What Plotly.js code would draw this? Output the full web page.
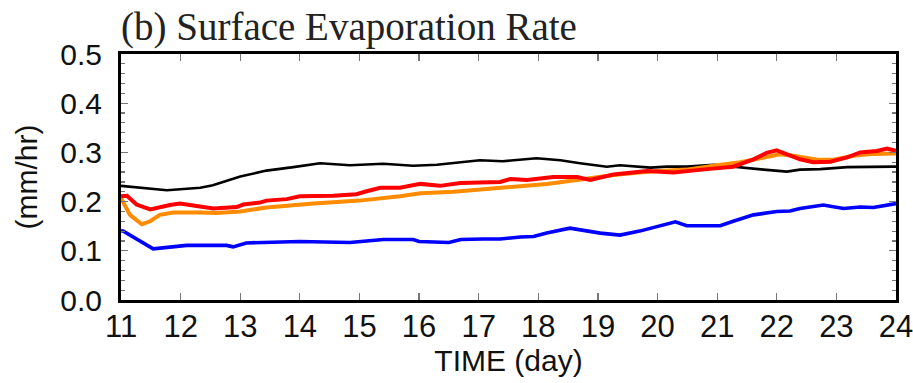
<!DOCTYPE html>
<html>
<head>
<meta charset="utf-8">
<script src="https://cdn.plot.ly/plotly-3.0.1.min.js"></script>
<style>html,body{margin:0;padding:0;background:#fff;}#chart{width:913px;height:383px;}</style>
</head>
<body>
<div id="chart"></div>
<script>
// ---- data ----
var dayBlack  = [11.0,11.4,11.77,12.33,12.54,13.0,13.44,13.89,14.34,14.84,15.4,15.9,16.3,17.02,17.4,17.97,18.37,18.7,19.15,19.37,19.88,20.16,20.49,20.94,21.39,21.78,22.17,22.39,22.73,23.18,23.96,24.0];
var evapBlack = [0.232,0.228,0.223,0.228,0.233,0.251,0.263,0.270,0.278,0.274,0.277,0.273,0.275,0.284,0.282,0.288,0.284,0.278,0.271,0.274,0.269,0.271,0.271,0.275,0.269,0.265,0.261,0.265,0.266,0.270,0.271,0.271];

var dayBlue  = [11.0,11.04,11.54,12.1,12.77,12.88,13.1,14.0,14.84,15.4,15.9,16.0,16.5,16.7,17.08,17.36,17.7,17.92,18.14,18.53,19.04,19.37,19.7,19.99,20.3,20.49,20.83,21.05,21.27,21.61,22.0,22.22,22.39,22.78,23.12,23.4,23.62,23.96,24.0];
var evapBlue = [0.141,0.140,0.104,0.111,0.111,0.108,0.116,0.119,0.117,0.123,0.123,0.119,0.117,0.123,0.124,0.124,0.128,0.129,0.136,0.146,0.136,0.132,0.140,0.150,0.159,0.151,0.152,0.151,0.160,0.173,0.180,0.181,0.186,0.193,0.186,0.189,0.188,0.196,0.196];

var dayOrange  = [11.0,11.15,11.35,11.49,11.65,11.88,12.33,12.6,13.0,13.44,14.23,15.0,15.68,16.02,16.58,17.36,17.7,18.14,18.65,19.26,19.88,20.49,20.94,21.39,21.72,22.05,22.28,22.68,22.95,23.29,23.62,24.0];
var evapOrange = [0.207,0.173,0.154,0.160,0.173,0.178,0.178,0.177,0.180,0.188,0.196,0.202,0.211,0.217,0.220,0.228,0.231,0.236,0.244,0.254,0.261,0.265,0.273,0.280,0.288,0.296,0.293,0.285,0.285,0.293,0.297,0.298];

var dayRed  = [11.0,11.1,11.26,11.49,11.82,11.99,12.21,12.55,12.94,13.05,13.33,13.44,13.78,14.0,14.56,14.95,15.12,15.35,15.68,16.02,16.35,16.69,17.02,17.36,17.53,17.81,18.25,18.65,18.87,19.26,19.82,20.27,20.83,21.27,21.61,21.83,22.0,22.17,22.39,22.61,22.9,23.18,23.4,23.68,23.85,24.0];
var evapRed = [0.211,0.212,0.194,0.184,0.193,0.196,0.192,0.186,0.189,0.194,0.198,0.202,0.205,0.211,0.212,0.215,0.221,0.228,0.228,0.236,0.232,0.238,0.239,0.240,0.246,0.244,0.250,0.250,0.244,0.255,0.262,0.259,0.266,0.271,0.286,0.299,0.304,0.297,0.286,0.280,0.281,0.290,0.300,0.303,0.308,0.303];

var xTickVals = [11,12,13,14,15,16,17,18,19,20,21,22,23,24];
var yTickVals = [0.0,0.1,0.2,0.3,0.4,0.5];
var yTickText = ['0.0','0.1','0.2','0.3','0.4','0.5'];

var traces = [
  {x: dayBlack,  y: evapBlack,  mode: 'lines', line: {color: '#000000', width: 2.6}},
  {x: dayBlue,   y: evapBlue,   mode: 'lines', line: {color: '#0000ff', width: 3.6}},
  {x: dayOrange, y: evapOrange, mode: 'lines', line: {color: '#ff8c00', width: 4}},
  {x: dayRed,    y: evapRed,    mode: 'lines', line: {color: '#ff0000', width: 4}}
];

var layout = {
  width: 913, height: 383,
  margin: {l: 121, r: 17, t: 54, b: 83},
  paper_bgcolor: '#ffffff', plot_bgcolor: '#ffffff',
  showlegend: false,
  title: {
    text: '(b) Surface Evaporation Rate',
    font: {family: 'Liberation Serif, Times New Roman, serif', size: 39, color: '#222'},
    x: 121/913, xref: 'container', xanchor: 'left',
    y: 1 - 26/383, yref: 'container', yanchor: 'middle'
  },
  xaxis: {
    range: [10.9995, 24.0005],
    tickvals: xTickVals,
    ticktext: xTickVals.map(String),
    ticklabeloverflow: 'allow',
    ticks: 'inside', ticklen: 7, tickwidth: 1.2, tickcolor: '#777',
    ticklabelstandoff: -3,
    showline: true, linecolor: '#000', linewidth: 3, mirror: 'ticks',
    showgrid: false, zeroline: false,
    tickfont: {family: 'Liberation Sans, Arial, sans-serif', size: 31, color: '#111'},
    title: {text: 'TIME (day)', font: {family: 'Liberation Sans, Arial, sans-serif', size: 30, color: '#111'}, standoff: 2}
  },
  yaxis: {
    range: [0, 0.5],
    tickvals: yTickVals,
    ticktext: yTickText,
    ticks: 'inside', ticklen: 7, tickwidth: 1.2, tickcolor: '#777',
    ticklabelstandoff: 10,
    minor: {dtick: 0.02, ticks: 'inside', ticklen: 4, tickwidth: 1.2, tickcolor: '#777', showgrid: false},
    showline: true, linecolor: '#000', linewidth: 3, mirror: 'ticks',
    showgrid: false, zeroline: false,
    tickfont: {family: 'Liberation Sans, Arial, sans-serif', size: 30, color: '#111'},
    title: {text: '(mm/hr)', font: {family: 'Liberation Sans, Arial, sans-serif', size: 30, color: '#111'}, standoff: 14}
  }
};

Plotly.newPlot('chart', traces, layout, {staticPlot: true, displayModeBar: false});
</script>
</body>
</html>
